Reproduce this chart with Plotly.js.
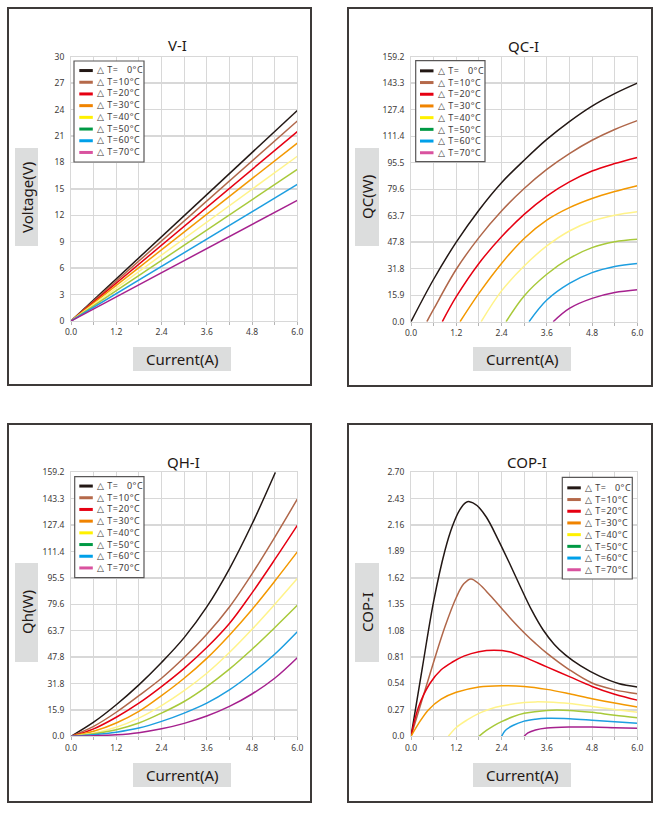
<!DOCTYPE html>
<html><head><meta charset="utf-8">
<script src="https://cdn.plot.ly/plotly-3.0.1.min.js"></script>
<style>html,body{margin:0;padding:0;background:#fff;overflow:hidden}#chart{width:661px;height:814px}</style>
</head><body><div id="chart"></div>
<script>
// ---------- data ----------
const legendLabels = ['△ T=\u00a0\u00a0\u00a00°C','△ T=10°C','△ T=20°C','△ T=30°C','△ T=40°C','△ T=50°C','△ T=60°C','△ T=70°C'];
const lineColors   = ['#231815','#b0674a','#e60012','#f39800','#fff38a','#a8c93a','#1d9ee0','#a6218e'];
const legendColors = ['#231815','#b5694a','#e60012','#f08300','#fff100','#009944','#00a0e9','#d9529f'];

const viCurrent = [[0,6],[0,6],[0,6],[0,6],[0,6],[0,6],[0,6],[0,6]];
const viVoltage = [[0,23.9],[0,22.7],[0,21.5],[0,20.2],[0,18.7],[0,17.2],[0,15.5],[0,13.7]];

const qcCurrent = [
  [0,0.6,1.2,1.8,2.4,3.0,3.6,4.2,4.8,5.4,6.0],
  [0.42,0.6,1.2,1.8,2.4,3.0,3.6,4.2,4.8,5.4,6.0],
  [0.83,1.2,1.8,2.4,3.0,3.6,4.2,4.8,5.4,6.0],
  [1.30,1.8,2.4,3.0,3.6,4.2,4.8,5.4,6.0],
  [1.86,2.4,3.0,3.6,4.2,4.8,5.4,6.0],
  [2.52,3.0,3.6,4.2,4.8,5.4,6.0],
  [3.13,3.6,4.2,4.8,5.4,6.0],
  [3.77,4.2,4.8,5.4,6.0]
];
const qcPower = [
  [0,25.5,47.8,67,83.5,97,109.5,120.2,129.5,137,143.3],
  [0,7.5,31.5,50.5,66.5,80,91.5,101,109,115.5,120.8],
  [0,15,35,51,64.5,75.5,84,90.5,95,98.7],
  [0,17,35,50,61,68.5,74,78.2,81.7],
  [0,18.5,33.5,45.5,54.5,60.5,64,66.1],
  [0,15.5,28.5,38,44.5,48,49.5],
  [0,13,23,29.5,33.2,35],
  [0,8,14,17.5,19.2]
];

const qhCurrent = [
  [0,0.6,1.2,1.8,2.4,3.0,3.6,4.2,4.8,5.42],
  [0,0.6,1.2,1.8,2.4,3.0,3.6,4.2,4.8,5.4,6.0],
  [0,0.6,1.2,1.8,2.4,3.0,3.6,4.2,4.8,5.4,6.0],
  [0,0.6,1.2,1.8,2.4,3.0,3.6,4.2,4.8,5.4,6.0],
  [0,0.6,1.2,1.8,2.4,3.0,3.6,4.2,4.8,5.4,6.0],
  [0,0.6,1.2,1.8,2.4,3.0,3.6,4.2,4.8,5.4,6.0],
  [0,0.6,1.2,1.8,2.4,3.0,3.6,4.2,4.8,5.4,6.0],
  [0,0.6,1.2,1.8,2.4,3.0,3.6,4.2,4.8,5.4,6.0]
];
const qhPower = [
  [0,8.5,19,31,44.5,59.5,78,101,128,159.2],
  [0,6,14.5,24.5,35,47.5,61.5,78,98,120,143],
  [0,4.5,11.5,20,30,41,53.5,68,86.5,106.5,127.2],
  [0,3,8,15,24.5,35,47,61,76.5,93.5,111.2],
  [0,2,5.5,11,18.5,27.5,38,50.5,64.5,79.5,95.1],
  [0,1.5,4,8,14,21,30,40.5,52.5,65.5,79],
  [0,1,2.5,5,9,14,20,28,38,49.5,63.1],
  [0,0.3,0.9,2.2,4.5,7.8,12.2,18,25.5,35,47.4]
];

const copCurrent = [
  [0,0.3,0.6,0.9,1.1,1.3,1.45,1.55,1.75,2.0,2.3,2.6,2.9,3.2,3.5,3.8,4.1,4.5,5.0,5.5,6.0],
  [0,0.3,0.6,0.9,1.2,1.4,1.59,1.8,2.1,2.4,2.7,3.0,3.3,3.6,4.2,4.8,5.4,6.0],
  [0,0.2,0.5,0.8,1.1,1.4,1.8,2.2,2.6,3.0,3.6,4.2,4.8,5.4,6.0],
  [0,0.2,0.46,0.8,1.2,1.8,2.4,3.0,3.6,4.2,4.8,5.4,6.0],
  [0.99,1.2,1.5,1.8,2.1,2.4,3.0,3.3,3.6,4.2,4.8,5.4,6.0],
  [1.8,2.0,2.2,2.4,2.7,3.0,3.6,4.2,4.8,5.4,6.0],
  [2.4,2.5,2.7,3.0,3.3,3.6,4.2,4.8,5.4,6.0],
  [3.0,3.1,3.3,3.6,4.2,4.8,5.4,6.0]
];
const copValue = [
  [0,0.70,1.38,1.90,2.15,2.32,2.39,2.40,2.36,2.24,2.02,1.78,1.53,1.29,1.09,0.94,0.83,0.72,0.615,0.54,0.505],
  [0,0.38,0.76,1.12,1.42,1.56,1.61,1.56,1.44,1.31,1.18,1.06,0.95,0.85,0.68,0.545,0.475,0.435],
  [0,0.30,0.54,0.68,0.76,0.82,0.865,0.88,0.865,0.81,0.71,0.61,0.51,0.43,0.37],
  [0,0.13,0.27,0.38,0.45,0.505,0.518,0.51,0.48,0.435,0.385,0.34,0.30],
  [0,0.09,0.17,0.235,0.28,0.31,0.345,0.352,0.35,0.335,0.305,0.275,0.245],
  [0,0.06,0.11,0.15,0.2,0.235,0.265,0.265,0.245,0.215,0.19],
  [0,0.06,0.11,0.155,0.175,0.184,0.18,0.165,0.148,0.133],
  [0,0.035,0.065,0.085,0.095,0.094,0.088,0.082]
];

const powerTickText = ['0.0','15.9','31.8','47.8','63.7','79.6','95.5','111.4','127.4','143.3','159.2'];
const copTickText   = ['0.0','0.27','0.54','0.81','1.08','1.35','1.62','1.89','2.16','2.43','2.70'];
const voltTickText  = ['0','3','6','9','12','15','18','21','24','27','30'];

// ---------- layout helpers ----------
const W = 661, H = 814;
const px = x => x / W, py = y => 1 - y / H;
const FONT = 'Noto Sans, DejaVu Sans, sans-serif';
const GRID = '#d8d8d8';
const TICKC = '#3e3a39';

function xAxis(x0, x1, anchor) {
  return {domain:[px(x0), px(x1)], anchor, range:[0,6], dtick:1.2, tick0:0, tickformat:'.1f',
    showgrid:true, gridcolor:GRID, gridwidth:1, zeroline:false, showline:true, linecolor:GRID, mirror:true,
    ticks:'outside', ticklen:3, tickcolor:'#b5b5b5',
    minor:{dtick:0.6, tick0:0, showgrid:true, gridcolor:GRID, gridwidth:1, ticks:'outside', ticklen:3, tickcolor:'#b5b5b5'},
    tickfont:{family:FONT, size:8.5, color:TICKC}, fixedrange:true};
}
function yAxis(y0, y1, anchor, max, ticktext) {
  return {domain:[py(y1), py(y0)], anchor, range:[0,max], tickmode:'array',
    tickvals:ticktext.map(Number), ticktext:ticktext,
    showgrid:true, gridcolor:GRID, gridwidth:1.4, zeroline:false, showline:true, linecolor:GRID, mirror:true,
    ticks:'', ticklabelstandoff:4, tickfont:{family:FONT, size:8.5, color:TICKC}, fixedrange:true};
}

const traces = [];
function addSeries(xs, ys, xa, ya) {
  xs.forEach((x, i) => traces.push({x:x, y:ys[i], xaxis:xa, yaxis:ya, type:'scatter', mode:'lines',
    name:legendLabels[i], showlegend:false, cliponaxis:true,
    line:{color:lineColors[i], width:1.5, shape:'spline', smoothing:1}, hoverinfo:'x+y'}));
}
addSeries(viCurrent, viVoltage, 'x', 'y');
addSeries(qcCurrent, qcPower, 'x2', 'y2');
addSeries(qhCurrent, qhPower, 'x3', 'y3');
addSeries(copCurrent, copValue, 'x4', 'y4');

const shapes = [];
function rect(x0, y0, x1, y1, opt) {
  shapes.push(Object.assign({type:'rect', xref:'paper', yref:'paper', x0:px(x0), x1:px(x1), y0:py(y1), y1:py(y0)}, opt));
}
// panel borders
[[8,8,311,385],[348,8,652,386],[8,424,311,802],[348,424,652,802]].forEach(b =>
  rect(b[0], b[1], b[2], b[3], {line:{color:'#3e3a39', width:2}, fillcolor:'rgba(0,0,0,0)', layer:'above'}));
// grey title boxes
const grey = {line:{width:0}, fillcolor:'#dcdddd', layer:'below'};
[[15,148,38,246],[355,148,379,246],[15,563,38,662],[355,563,379,662],
 [133,347,231,371],[473,347,571,371],[133,763,231,787],[473,763,571,787]].forEach(b => rect(b[0],b[1],b[2],b[3],grey));

const annotations = [];
function text(t, x, y, size, angle) {
  annotations.push({text:t, xref:'paper', yref:'paper', x:px(x), y:py(y), xanchor:'center', yanchor:'middle',
    showarrow:false, textangle:angle||0, font:{family:FONT, size:size, color:'#231815'}});
}
text('V-I', 177, 45, 15); text('QC-I', 523, 46, 15); text('QH-I', 183, 462, 15); text('COP-I', 527, 462, 15);
text('Voltage(V)', 27, 197, 15, -90); text('QC(W)', 367, 197, 15, -90);
text('Qh(W)', 27, 612, 15, -90); text('COP-I', 367, 612, 15, -90);
text('Current(A)', 182, 359, 15); text('Current(A)', 522, 359, 15);
text('Current(A)', 182, 775, 15); text('Current(A)', 522, 775, 15);

// legend boxes: [boxLeft, boxTop, boxRight, boxBottom, swatchLeft, textLeft, rowsMiddle]
const LEG_FS = 9, ROW = LEG_FS * 1.3;
const legendText = legendLabels.map(l => '<span style="letter-spacing:0.5px">' + l + '</span>').join('<br>');
[[74,61,144,162,79.3,95.5,111],[415.7,60.7,485,161.7,420,436.5,111.3],
 [74.7,476.7,144,577.7,79.3,95.5,526.5],[562.3,477.3,632.3,579,567.3,584,528.3]].forEach(b => {
  rect(b[0], b[1], b[2], b[3], {line:{color:'#595757', width:1.2}, fillcolor:'#ffffff', layer:'above'});
  legendColors.forEach((c, i) => {
    const yy = b[6] + (i - 3.5) * ROW + 0.5;
    shapes.push({type:'line', xref:'paper', yref:'paper', x0:px(b[4]), x1:px(b[4] + 13.5), y0:py(yy), y1:py(yy),
      line:{color:c, width:3}, layer:'above'});
  });
  annotations.push({text:legendText, xref:'paper', yref:'paper', x:px(b[5]), y:py(b[6]), xanchor:'left', yanchor:'middle',
    align:'left', showarrow:false, borderpad:0, font:{family:FONT, size:LEG_FS, color:'#3e3a39'}});
});

const layout = {
  width:W, height:H, margin:{l:0, r:0, t:0, b:0}, paper_bgcolor:'#ffffff', plot_bgcolor:'#ffffff',
  showlegend:false, font:{family:FONT},
  xaxis:xAxis(71, 297.3, 'y'),   yaxis:yAxis(56.7, 321, 'x', 30, voltTickText),
  xaxis2:xAxis(411, 637.3, 'y2'), yaxis2:yAxis(56.7, 321.7, 'x2', 159.2, powerTickText),
  xaxis3:xAxis(71, 297.3, 'y3'),  yaxis3:yAxis(472.3, 736.3, 'x3', 159.2, powerTickText),
  xaxis4:xAxis(411, 637.3, 'y4'), yaxis4:yAxis(472.3, 736.3, 'x4', 2.70, copTickText),
  shapes:shapes, annotations:annotations
};
Plotly.newPlot('chart', traces, layout, {displayModeBar:false, staticPlot:true});
</script>
</body></html>
